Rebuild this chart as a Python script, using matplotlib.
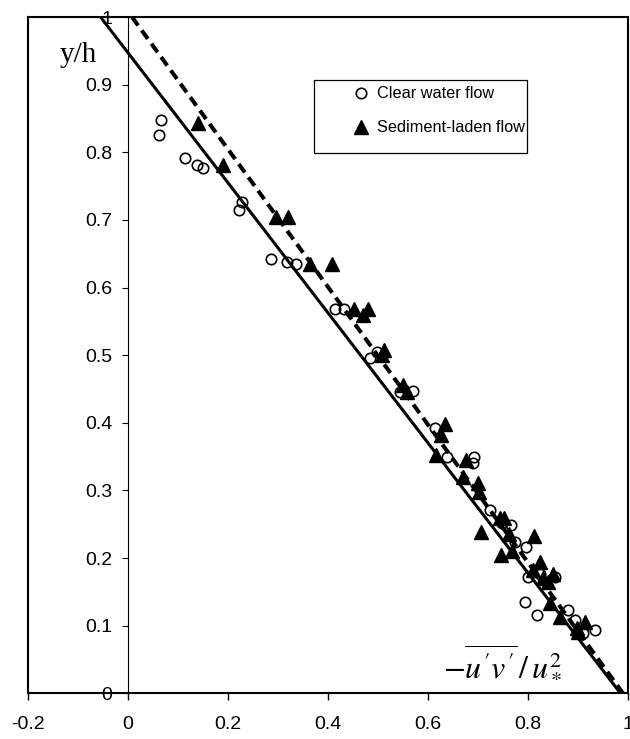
import matplotlib as mpl
mpl.use('Agg')
import matplotlib.pyplot as plt
from matplotlib.patches import Rectangle

plt.rcParams['font.family'] = ['Liberation Sans', 'DejaVu Sans']
plt.rcParams['mathtext.fontset'] = 'stix'

# clear water flow (open circles)
clear_x = [0.065, 0.062, 0.113, 0.137, 0.149, 0.227, 0.221,
           0.285, 0.317, 0.335, 0.413, 0.431, 0.483, 0.497,
           0.543, 0.570, 0.615, 0.638, 0.693, 0.690,
           0.725, 0.749, 0.767, 0.773, 0.795,
           0.800, 0.823, 0.853, 0.793, 0.817, 0.879, 0.893, 0.933, 0.910]
clear_y = [0.847, 0.826, 0.791, 0.781, 0.776, 0.726, 0.714,
           0.642, 0.637, 0.635, 0.568, 0.568, 0.496, 0.504,
           0.446, 0.447, 0.392, 0.349, 0.350, 0.341,
           0.271, 0.252, 0.249, 0.224, 0.217,
           0.172, 0.177, 0.172, 0.135, 0.116, 0.123, 0.108, 0.094, 0.089]

# sediment-laden flow (filled triangles)
sed_x = [0.140, 0.190, 0.295, 0.320, 0.363, 0.408,
         0.451, 0.480, 0.470, 0.512, 0.508,
         0.550, 0.557, 0.635, 0.627, 0.617, 0.675,
         0.670, 0.700, 0.703, 0.745, 0.753, 0.707, 0.763, 0.812,
         0.747, 0.768, 0.823, 0.810, 0.850, 0.830, 0.840,
         0.843, 0.863, 0.913, 0.897, 0.900]
sed_y = [0.844, 0.781, 0.705, 0.705, 0.635, 0.635,
         0.568, 0.568, 0.560, 0.508, 0.500,
         0.456, 0.446, 0.398, 0.382, 0.352, 0.345,
         0.320, 0.311, 0.298, 0.259, 0.259, 0.238, 0.235, 0.232,
         0.204, 0.211, 0.194, 0.183, 0.176, 0.170, 0.165,
         0.133, 0.113, 0.106, 0.096, 0.090]

# fitted lines (end points)
solid_x = [-0.055, 0.985]
solid_y = [1.0, 0.0]
dash_x = [0.008, 0.99]
dash_y = [1.0, 0.0]

xticks = [-0.2, 0, 0.2, 0.4, 0.6, 0.8, 1]
yticks = [0, 0.1, 0.2, 0.3, 0.4, 0.5, 0.6, 0.7, 0.8, 0.9, 1]

fig = plt.figure(figsize=(6.3, 7.39), dpi=100)
ax = fig.add_axes([28/630, 45.7/739, 600/630, 676.3/739])

ax.plot(solid_x, solid_y, color='black', lw=2.2, zorder=2)
ax.plot(dash_x, dash_y, color='black', lw=2.9, linestyle=(0, (2.6, 1.5)), zorder=2)

ax.plot(clear_x, clear_y, linestyle='none', marker='o', markersize=7.5,
        markerfacecolor='none', markeredgecolor='black', markeredgewidth=1.2,
        label='Clear water flow', zorder=3)
ax.plot(sed_x, sed_y, linestyle='none', marker='^', markersize=9.5,
        color='black', label='Sediment-laden flow', zorder=3)

ax.set_xlim(-0.2, 1.0)
ax.set_ylim(0, 1.0)

# y axis sits at x = 0, outer frame drawn separately
ax.spines['left'].set_position(('data', 0))
ax.spines['left'].set_linewidth(0.8)
for s in ['top', 'right', 'bottom']:
    ax.spines[s].set_linewidth(1.5)
ax.plot([0, 0], [0, 1], transform=ax.transAxes, color='black', lw=1.5, clip_on=False)

ax.set_xticks(xticks)
ax.set_xticklabels(['%g' % v for v in xticks])
ax.set_yticks(yticks)
ax.set_yticklabels(['%g' % v for v in yticks])
ax.tick_params(axis='x', direction='out', length=5, width=1, pad=11, labelsize=14)
ax.tick_params(axis='y', direction='out', length=4.5, width=0.8, pad=7, labelsize=14)

ax.text(-0.1, 0.944, 'y/h', family='Liberation Serif', fontsize=21,
        ha='center', va='center')
ax.text(0.75, 0.046, r'$-\overline{u^{\prime}v^{\prime}}\,/\,u_*^2$', fontsize=23,
        ha='center', va='center')

# legend: box drawn as a rectangle, entries without frame
ax.add_patch(Rectangle((0.4767, 0.799), 0.355, 0.1078, transform=ax.transAxes,
                       fill=True, facecolor='white', edgecolor='black', lw=0.9, zorder=4))
leg = ax.legend(loc='upper left', bbox_to_anchor=(0.5367, 0.9025), borderaxespad=0,
                fontsize=11.7, frameon=False, handlelength=0.9, handletextpad=0.58,
                borderpad=0.2, labelspacing=1.17, numpoints=1)
leg.set_zorder(5)

fig.savefig('out.png', dpi=100)
